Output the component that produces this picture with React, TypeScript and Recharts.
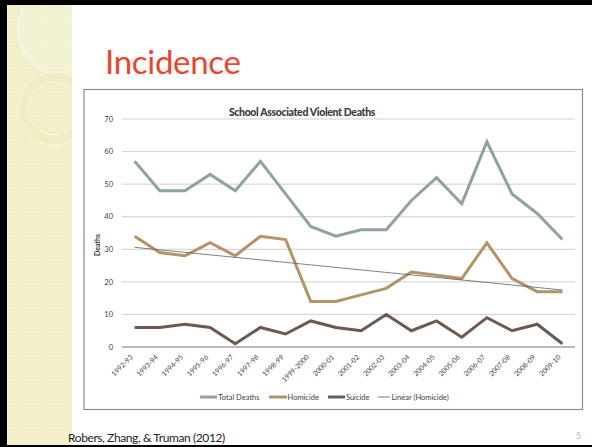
import React from "react";
import { LineChart, Line, XAxis, YAxis, CartesianGrid } from "recharts";

const years = [
  "1992-93", "1993-94", "1994-95", "1995-96", "1996-97", "1997-98", "1998-99",
  "1999-2000", "2000-01", "2001-02", "2002-03", "2003-04", "2004-05", "2005-06",
  "2006-07", "2007-08", "2008-09", "2009-10",
];
const totalDeaths = [57, 48, 48, 53, 48, 57, 47, 37, 34, 36, 36, 45, 52, 44, 63, 47, 41, 33];
const homicide = [34, 29, 28, 32, 28, 34, 33, 14, 14, 16, 18, 23, 22, 21, 32, 21, 17, 17];
const suicide = [6, 6, 7, 6, 1, 6, 4, 8, 6, 5, 10, 5, 8, 3, 9, 5, 7, 1];
const linearHomicide: (number | null)[] = [30.6, null, null, null, null, null, null, null, null, null, null, null, null, null, null, null, null, 17.5];
const yTicks = [0, 10, 20, 30, 40, 50, 60, 70];

const data = years.map((y, i) => ({
  year: y,
  total: totalDeaths[i],
  homicide: homicide[i],
  suicide: suicide[i],
  linear: linearHomicide[i],
}));

const C_TOTAL = "#8EA597";
const C_HOM = "#B39466";
const C_SUI = "#6B5A4F";
const C_LIN = "#5E5E5E";
const FONT = "Lato, 'DejaVu Sans', sans-serif";

const XTick = (props: any) => {
  const { x, y, payload } = props;
  return (
    <g transform={`translate(${x - 3},${y + 9}) rotate(-45)`}>
      <text x={0} y={0} dy="0.35em" textAnchor="end" fontSize={7} fill="#454545" fontFamily={FONT}>
        {payload.value}
      </text>
    </g>
  );
};

const legendItems = [
  { label: "Total Deaths", color: C_TOTAL, w: 3, len: 17 },
  { label: "Homicide", color: C_HOM, w: 3, len: 18 },
  { label: "Suicide", color: C_SUI, w: 3, len: 17 },
  { label: "Linear (Homicide)", color: C_LIN, w: 0.8, len: 12 },
];

export default function App() {
  return (
    <div style={{ position: "fixed", left: 0, top: 0, width: 592, height: 447, background: "#fff", overflow: "hidden", fontFamily: FONT }}>
      <svg width={592} height={447} style={{ position: "absolute", left: 0, top: 0 }}>
        <defs>
          <pattern id="dots" width="3" height="3" patternUnits="userSpaceOnUse">
            <rect width="3" height="3" fill="#F3F1CC" />
            <rect width="1" height="1" fill="#EAE7BD" />
          </pattern>
          <clipPath id="strip">
            <rect x={7} y={0} width={65} height={447} />
          </clipPath>
        </defs>
        <rect x={7} y={0} width={65} height={447} fill="url(#dots)" />
        <g clipPath="url(#strip)">
          <circle cx={68} cy={28} r={50} fill="#FFFFFF" fillOpacity={0.2} stroke="#FFFFFF" strokeOpacity={0.75} strokeWidth={1} />
          <circle cx={54.5} cy={108.5} r={31.5} fill="none" stroke="#F1EDC2" strokeWidth={10} />
          <circle cx={54.5} cy={108.5} r={36.5} fill="none" stroke="#FFFFFF" strokeOpacity={0.6} strokeWidth={0.8} />
          <circle cx={54.5} cy={108.5} r={26.5} fill="none" stroke="#FFFFFF" strokeOpacity={0.6} strokeWidth={0.8} />
        </g>
        <rect x={0} y={0} width={7} height={447} fill="#000" />
        <rect x={0} y={0} width={592} height={5} fill="#000" />
        <rect x={0} y={445} width={592} height={2} fill="#000" />
        <rect x={84} y={89.5} width={498.5} height={320} fill="#fff" stroke="#8A8A8A" strokeWidth={1.2} />
      </svg>

      <div style={{ position: "absolute", left: 105, top: 41, fontSize: 33, color: "#E8462E", lineHeight: "40px", letterSpacing: -0.3 }}>
        Incidence
      </div>

      <div style={{ position: "absolute", left: 84, width: 436, top: 106, textAlign: "center", fontSize: 10.5, fontWeight: 900, color: "#3A3A3A", letterSpacing: -0.35 }}>
        School Associated Violent Deaths
      </div>

      <div style={{ position: "absolute", left: 97, top: 245, transform: "translate(-50%,-50%) rotate(-90deg)", fontSize: 7, fontWeight: 700, color: "#333" }}>
        Deaths
      </div>

      <div style={{ position: "absolute", left: 84, top: 89 }}>
        <LineChart width={499} height={321} data={data} margin={{ top: 30, right: 8, bottom: 0, left: 0 }}>
          <CartesianGrid vertical={false} stroke="#CFCFCF" strokeWidth={1} />
          <XAxis
            dataKey="year"
            interval={0}
            height={63}
            tickLine={false}
            tickSize={0}
            tickMargin={0}
            axisLine={{ stroke: "#8C8C8C", strokeWidth: 1 }}
            padding={{ left: 12.6, right: 12.6 }}
            tick={<XTick />}
          />
          <YAxis
            width={38}
            domain={[0, 70]}
            ticks={yTicks}
            axisLine={false}
            tickLine={false}
            tickSize={0}
            tickMargin={9}
            tick={{ fontSize: 7.5, fill: "#404040", fontFamily: FONT }}
          />
          <Line dataKey="total" stroke={C_TOTAL} strokeWidth={3} dot={false} isAnimationActive={false} strokeLinejoin="miter" />
          <Line dataKey="homicide" stroke={C_HOM} strokeWidth={3} dot={false} isAnimationActive={false} strokeLinejoin="miter" />
          <Line dataKey="suicide" stroke={C_SUI} strokeWidth={3} dot={false} isAnimationActive={false} strokeLinejoin="miter" />
          <Line dataKey="linear" stroke={C_LIN} strokeWidth={0.8} dot={false} connectNulls isAnimationActive={false} />
        </LineChart>
      </div>

      <div style={{ position: "absolute", left: 0, width: 592, top: 391, display: "flex", justifyContent: "center", paddingLeft: 66, boxSizing: "border-box" }}>
        {legendItems.map((it) => (
          <div key={it.label} style={{ display: "flex", alignItems: "center", marginRight: 9, fontSize: 7.5, color: "#404040", height: 12 }}>
            <svg width={it.len} height={6} style={{ marginRight: 1 }}>
              <line x1={0} x2={it.len} y1={3} y2={3} stroke={it.color} strokeWidth={it.w} />
            </svg>
            <span>{it.label}</span>
          </div>
        ))}
      </div>

      <div style={{ position: "absolute", left: 68, top: 430, fontSize: 12, color: "#222", lineHeight: "16px", letterSpacing: -0.4 }}>
        Robers, Zhang, &amp; Truman (2012)
      </div>
      <div style={{ position: "absolute", left: 576, top: 430, fontSize: 9, color: "#C4BF92" }}>5</div>
    </div>
  );
}
